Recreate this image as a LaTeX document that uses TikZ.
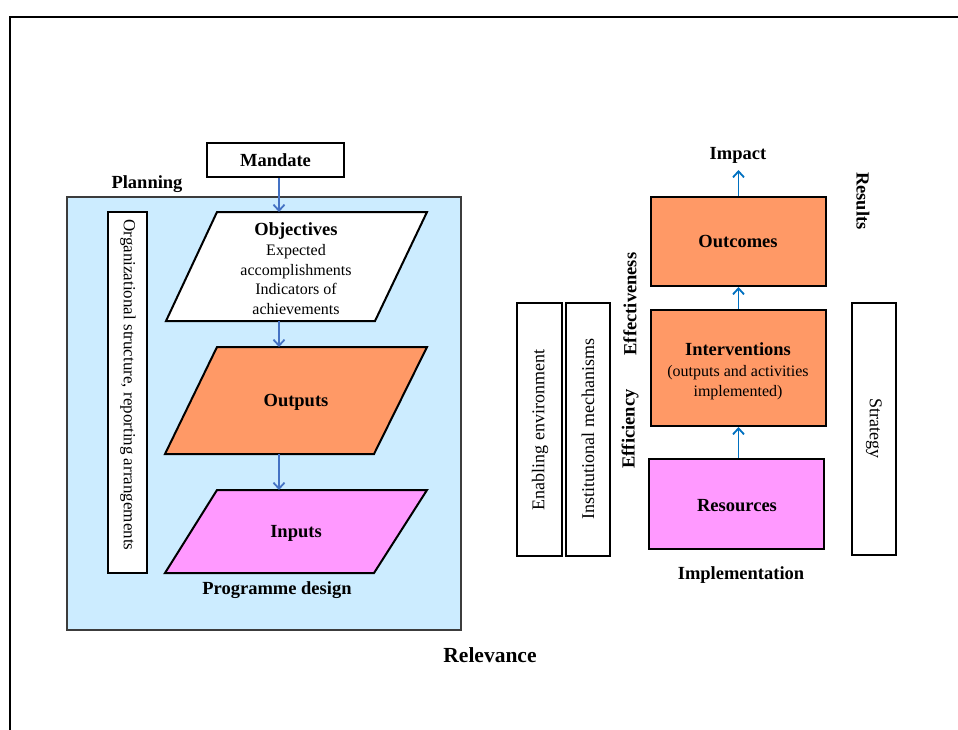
\documentclass[tikz,border=0pt]{standalone}
\usepackage{fontspec}
\setmainfont{Liberation Serif}
\usetikzlibrary{arrows.meta}
\definecolor{planblue}{RGB}{204,236,255}
\definecolor{orangefill}{RGB}{255,153,102}
\definecolor{pinkfill}{RGB}{255,153,255}
\definecolor{arrowblue}{RGB}{0,112,192}
\definecolor{arrowblueL}{RGB}{68,114,196}
\begin{document}
\begin{tikzpicture}[x=1pt,y=-1pt,
  box/.style={draw=black, line width=2pt, inner sep=0pt},
  para/.style={draw=black, line width=2pt, line join=miter},
  lbl/.style={font=\fontsize{16}{19.5}\selectfont, align=center, inner sep=0pt},
  rlbl/.style={font=\fontsize{18}{20}\selectfont, align=center, inner sep=0pt},
  blbl/.style={font=\fontsize{18.5}{20}\selectfont\bfseries, align=center, inner sep=0pt},
  flowL/.style={draw=arrowblueL, line width=1.8pt, -{Straight Barb[length=6pt,width=11pt,line width=1.8pt]}},
  flowR/.style={draw=arrowblue, line width=1.8pt, -{Straight Barb[length=6pt,width=11pt,line width=1.8pt]}},
]
\useasboundingbox (0,0) rectangle (958,729);
% outer frame
\draw[line width=2pt] (10,740) -- (10,17) -- (970,17);

% ---------- left: planning ----------
\node[draw={rgb,255:red,60;green,60;blue,60}, line width=1.2pt, fill=planblue, minimum width=394pt, minimum height=433pt, inner sep=0pt] (planning) at (264,413.5) {};
\node[blbl] (planninglbl) at (147,184) {Planning};
\node[box, fill=white, minimum width=137pt, minimum height=34pt] (mandate) at (275.5,160) {};
\node[blbl] (mandatelbl) at (mandate.center) {Mandate};

\node[box, fill=white, minimum width=39pt, minimum height=361pt] (org) at (127.5,392.5) {};
\node[rlbl, font=\fontsize{17}{20}\selectfont, rotate=-90] (orglbl) at (128,385) {Organizational structure, reporting arrangements};

% parallelograms
\draw[para, fill=white] (217,212) -- (427,212) -- (375,321) -- (166,321) -- cycle;
\draw[para, fill=orangefill] (217,347) -- (427,347) -- (374,454) -- (165,454) -- cycle;
\draw[para, fill=pinkfill] (217,490) -- (427,490) -- (374,573) -- (165,573) -- cycle;
\coordinate (objtop) at (279,212);
\coordinate (objbot) at (279,321);
\coordinate (outtop) at (279,347);
\coordinate (outbot) at (279,454);
\coordinate (intop) at (279,490);

\node[lbl] (objectives) at (296,268.5) {{\fontsize{18.5}{19.5}\selectfont\bfseries Objectives}\\[1pt]Expected\\accomplishments\\Indicators of\\achievements};
\node[blbl] (outputs) at (296,402) {Outputs};
\node[blbl] (inputs) at (296,533) {Inputs};
\node[blbl] (progdesign) at (277,590) {Programme design};

\draw[flowL] (mandate.south -| objtop) -- (objtop);
\draw[flowL] (objbot) -- (outtop);
\draw[flowL] (outbot) -- (intop);

% ---------- right: implementation ----------
\node[box, fill=orangefill, minimum width=175pt, minimum height=89pt] (outcomes) at (738.5,241.5) {};
\node[blbl] (outcomeslbl) at (738,241) {Outcomes};
\node[box, fill=orangefill, minimum width=175pt, minimum height=116pt] (interv) at (738.5,368) {};
\node[lbl, font=\fontsize{16}{20}\selectfont] (intervlbl) at (738,371) {{\fontsize{18.5}{20}\selectfont\bfseries Interventions}\\[1pt](outputs and activities\\implemented)};
\node[box, fill=pinkfill, minimum width=175pt, minimum height=90pt] (resources) at (736.5,504) {};
\node[blbl] (resourceslbl) at (737,506) {Resources};

\node[blbl] (impact) at (738,155) {Impact};
\coordinate (impacttip) at (738.5,170);
\draw[flowR] (outcomes.north) -- (impacttip);
\draw[flowR] (interv.north -| outcomes.north) -- (outcomes.south);
\draw[flowR] (resources.north -| outcomes.north) -- (interv.south);

\node[blbl, rotate=-90] (results) at (863,201) {Results};
\node[blbl, rotate=90] (effectiveness) at (630,304) {Effectiveness};
\node[blbl, rotate=90] (efficiency) at (630,429) {Efficiency};

\node[box, fill=white, minimum width=45pt, minimum height=253pt] (enabling) at (539.5,429.5) {};
\node[rlbl, rotate=90] (enablinglbl) at (540,430) {Enabling environment};
\node[box, fill=white, minimum width=44pt, minimum height=253pt] (instit) at (588,429.5) {};
\node[rlbl, rotate=90] (institlbl) at (588,429) {Institutional mechanisms};
\node[box, fill=white, minimum width=44pt, minimum height=252pt] (strategy) at (874,429) {};
\node[rlbl, rotate=-90] (strategylbl) at (874,428) {Strategy};

\node[blbl] (implementation) at (741,575) {Implementation};
\node[font=\fontsize{21.5}{24}\selectfont\bfseries, inner sep=0pt] (relevance) at (490,655) {Relevance};
\end{tikzpicture}
\end{document}
